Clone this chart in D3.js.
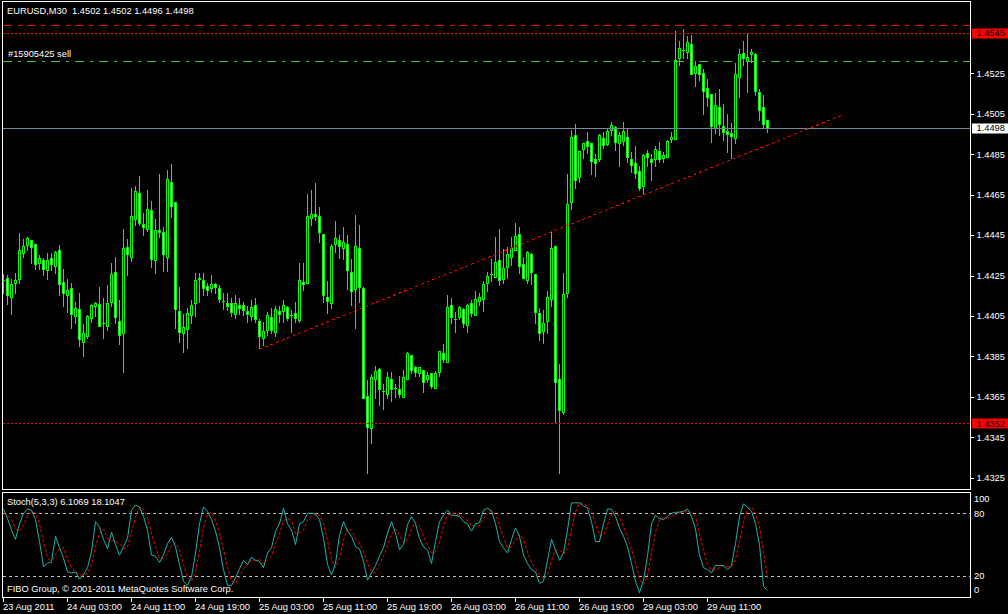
<!DOCTYPE html>
<html><head><meta charset="utf-8">
<script src="https://cdn.jsdelivr.net/npm/d3@7"></script>
<style>
html,body{margin:0;padding:0;background:#000;}
svg{display:block;}
text{font-family:'Liberation Sans',Arial,sans-serif;font-size:9.3px;fill:#fff;white-space:pre;}
</style></head><body>
<svg id="c" width="1008" height="614"></svg>
<script>
const symbolLabel = "EURUSD,M30";
const lastQuote = [1.4502, 1.4502, 1.4496, 1.4498];
const orderLabel = "#15905425 sell";
const orderPrice = 1.4531;
const stopPrice = 1.4549;
const markedLevels = [1.4545, 1.4352];
const bidPrice = 1.4498;
const trendBars = [64, 210];
const trendPrices = [1.43885, 1.45046];

const open = [
1.44227,1.44236,1.44142,1.44214,1.44234,1.44363,1.44401,1.44424,1.44404,1.44313,
1.44325,1.44275,1.44335,1.44295,1.44376,1.44216,1.44155,1.44186,1.44051,1.44082,
1.43922,1.43952,1.44041,1.44101,1.44111,1.44013,1.44002,1.44120,1.44265,1.44023,
1.43964,1.44392,1.44343,1.44531,1.44656,1.44503,1.44481,1.44572,1.44325,1.44473,
1.44463,1.44343,1.44714,1.44612,1.44072,1.43964,1.43983,1.44053,1.44112,1.44232,
1.44228,1.44198,1.44186,1.44208,1.44186,1.44124,1.44114,1.44114,1.44061,1.44104,
1.44102,1.44074,1.44051,1.44104,1.44025,1.43942,1.43982,1.44045,1.43972,1.44074,
1.44072,1.44094,1.44054,1.44063,1.44030,1.44218,1.44214,1.44533,1.44556,1.44544,
1.44455,1.44145,1.44112,1.44404,1.44424,1.44384,1.44404,1.44267,1.44185,1.44384,
1.44188,1.43654,1.43494,1.43736,1.43786,1.43677,1.43662,1.43736,1.43696,1.43687,
1.43650,1.43736,1.43855,1.43797,1.43766,1.43785,1.43736,1.43766,1.43695,1.43774,
1.43865,1.43823,1.44102,1.44033,1.44043,1.44082,1.44003,1.44112,1.44053,1.44122,
1.44132,1.44214,1.44257,1.44244,1.44325,1.44234,1.44294,1.44343,1.44374,1.44453,
1.44305,1.44226,1.44354,1.44256,1.44063,1.43974,1.44023,1.44132,1.44394,1.43736,
1.43573,1.44165,1.44612,1.44945,1.44735,1.44875,1.44915,1.44904,1.44824,1.44824,
1.44932,1.44902,1.44970,1.44984,1.44904,1.44915,1.44933,1.44824,1.44805,1.44768,
1.44694,1.44856,1.44824,1.44824,1.44866,1.44833,1.44834,1.44923,1.44923,1.45324,
1.45365,1.45354,1.45393,1.45253,1.45294,1.45253,1.45176,1.45146,1.44981,1.45082,
1.44991,1.44965,1.44953,1.44932,1.45233,1.45352,1.45311,1.45344,1.45344,1.45156,
1.45082,1.45020];
const high = [
1.44264,1.44257,1.44236,1.44265,1.44465,1.44435,1.44445,1.44429,1.44407,1.44356,
1.44343,1.44366,1.44366,1.44378,1.44406,1.44287,1.44237,1.44216,1.44124,1.44168,
1.44015,1.44058,1.44112,1.44124,1.44198,1.44142,1.44206,1.44318,1.44346,1.44134,
1.44483,1.44435,1.44688,1.44697,1.44749,1.44564,1.44678,1.44623,1.44532,1.44757,
1.44495,1.44777,1.44806,1.44612,1.44198,1.44064,1.44092,1.44134,1.44267,1.44267,
1.44267,1.44219,1.44257,1.44219,1.44208,1.44170,1.44167,1.44145,1.44158,1.44145,
1.44125,1.44104,1.44135,1.44145,1.44038,1.44026,1.44074,1.44094,1.44104,1.44104,
1.44134,1.44104,1.44084,1.44124,1.44316,1.44316,1.44658,1.44678,1.44710,1.44594,
1.44455,1.44228,1.44409,1.44524,1.44455,1.44496,1.44455,1.44336,1.44554,1.44503,
1.44198,1.43738,1.43766,1.43807,1.43799,1.43718,1.43777,1.43777,1.43716,1.43757,
1.43787,1.43878,1.43855,1.43807,1.43797,1.43785,1.43777,1.43774,1.43785,1.43875,
1.43914,1.44158,1.44142,1.44074,1.44102,1.44092,1.44112,1.44133,1.44178,1.44168,
1.44228,1.44274,1.44335,1.44445,1.44485,1.44384,1.44396,1.44445,1.44514,1.44495,
1.44346,1.44376,1.44364,1.44256,1.44096,1.44082,1.44178,1.44475,1.44394,1.43815,
1.44265,1.44757,1.44975,1.45006,1.44866,1.44912,1.44965,1.44904,1.44854,1.44953,
1.44965,1.44984,1.45014,1.44994,1.44965,1.45014,1.44984,1.44866,1.44895,1.44796,
1.44857,1.44876,1.44854,1.44895,1.44915,1.44866,1.44923,1.44965,1.45464,1.45415,
1.45472,1.45439,1.45444,1.45316,1.45294,1.45278,1.45225,1.45151,1.45156,1.45176,
1.45103,1.45054,1.45011,1.45308,1.45377,1.45415,1.45456,1.45373,1.45357,1.45176,
1.45148,1.45020];
const low = [
1.44162,1.44109,1.44059,1.44165,1.44214,1.44343,1.44376,1.44313,1.44280,1.44284,
1.44252,1.44234,1.44275,1.44264,1.44155,1.44099,1.44070,1.43992,1.44013,1.43903,
1.43853,1.43942,1.44021,1.44051,1.44002,1.43942,1.43982,1.44101,1.44013,1.43913,
1.43774,1.44252,1.44323,1.44501,1.44501,1.44452,1.44468,1.44293,1.44264,1.44442,
1.44274,1.44274,1.44541,1.43992,1.43922,1.43873,1.43893,1.44013,1.44051,1.44120,
1.44153,1.44153,1.44167,1.44165,1.44120,1.44082,1.44079,1.44051,1.44041,1.44061,
1.44054,1.44021,1.44030,1.44021,1.43890,1.43906,1.43954,1.43964,1.43952,1.44021,
1.44021,1.44030,1.43972,1.44021,1.44021,1.44178,1.44214,1.44500,1.44524,1.44417,
1.44120,1.44063,1.44091,1.44368,1.44335,1.44331,1.44183,1.44104,1.43992,1.44120,
1.43642,1.43274,1.43423,1.43642,1.43611,1.43591,1.43642,1.43630,1.43650,1.43650,
1.43650,1.43736,1.43766,1.43754,1.43754,1.43675,1.43725,1.43695,1.43695,1.43754,
1.43823,1.43823,1.44013,1.43972,1.44033,1.43993,1.43972,1.44051,1.44053,1.44104,
1.44073,1.44175,1.44222,1.44244,1.44203,1.44214,1.44236,1.44303,1.44374,1.44264,
1.44236,1.44214,1.44206,1.44013,1.43931,1.43914,1.43964,1.44099,1.43519,1.43274,
1.43563,1.44142,1.44580,1.44684,1.44714,1.44829,1.44854,1.44752,1.44744,1.44814,
1.44879,1.44895,1.44945,1.44871,1.44791,1.44895,1.44813,1.44764,1.44730,1.44673,
1.44653,1.44791,1.44722,1.44793,1.44813,1.44813,1.44834,1.44912,1.44923,1.45291,
1.45324,1.45327,1.45245,1.45187,1.45217,1.45049,1.45090,1.44912,1.44953,1.44945,
1.44920,1.44862,1.44833,1.44904,1.45134,1.45291,1.45159,1.45308,1.45143,1.45019,
1.44986,1.44960];
const close = [
1.44227,1.44153,1.44206,1.44226,1.44376,1.44394,1.44434,1.44392,1.44305,1.44335,
1.44284,1.44325,1.44305,1.44364,1.44206,1.44165,1.44176,1.44061,1.44091,1.43934,
1.43964,1.44051,1.44102,1.44112,1.44002,1.44013,1.44112,1.44256,1.44043,1.43954,
1.44384,1.44354,1.44543,1.44666,1.44511,1.44491,1.44580,1.44333,1.44473,1.44463,
1.44354,1.44725,1.44592,1.44082,1.43972,1.43993,1.44063,1.44102,1.44228,1.44239,
1.44186,1.44176,1.44208,1.44195,1.44132,1.44124,1.44101,1.44071,1.44112,1.44091,
1.44081,1.44061,1.44092,1.44033,1.43952,1.43974,1.44054,1.43982,1.44084,1.44061,
1.44102,1.44041,1.44054,1.44041,1.44228,1.44206,1.44544,1.44556,1.44544,1.44463,
1.44155,1.44122,1.44396,1.44434,1.44396,1.44414,1.44275,1.44175,1.44396,1.44195,
1.43642,1.43502,1.43749,1.43777,1.43687,1.43677,1.43746,1.43687,1.43696,1.43662,
1.43746,1.43865,1.43785,1.43772,1.43797,1.43725,1.43757,1.43703,1.43766,1.43875,
1.43835,1.44092,1.44043,1.44033,1.44092,1.44013,1.44102,1.44063,1.44133,1.44142,
1.44208,1.44247,1.44257,1.44315,1.44226,1.44285,1.44354,1.44384,1.44443,1.44295,
1.44236,1.44364,1.44265,1.44071,1.43964,1.44013,1.44142,1.44384,1.43725,1.43583,
1.44157,1.44602,1.44935,1.44722,1.44866,1.44904,1.44892,1.44814,1.44806,1.44945,
1.44894,1.44965,1.44994,1.44912,1.44945,1.44965,1.44834,1.44795,1.44755,1.44684,
1.44846,1.44834,1.44813,1.44874,1.44824,1.44846,1.44915,1.44935,1.45316,1.45373,
1.45365,1.45403,1.45245,1.45286,1.45245,1.45164,1.45135,1.44991,1.45093,1.44999,
1.44961,1.44951,1.44941,1.45245,1.45344,1.45324,1.45332,1.45354,1.45164,1.45070,
1.45001,1.44980];

const stochMain = [
84,75,64,55,70,80,84,83,74,53,
29,32,34,58,47,37,24,23,24,17,
21,28,43,72,67,55,46,62,50,40,
48,56,83,88,86,77,64,40,39,33,
40,51,57,48,31,15,11,19,42,70,
86,82,74,63,47,26,11,11,18,27,
35,31,38,35,34,28,42,47,63,70,
85,70,64,50,70,72,80,80,79,74,
56,31,21,32,59,72,63,58,48,46,
34,16,23,30,39,47,61,72,61,45,
50,69,77,70,56,48,45,32,53,72,
78,83,78,78,77,72,70,63,70,71,
83,85,82,70,53,47,42,55,66,58,
40,32,26,24,13,15,35,55,45,35,
42,64,90,90,90,87,85,72,53,53,
70,84,84,77,66,58,48,32,15,4,
16,39,70,78,75,74,77,80,81,81,
82,84,77,65,40,28,26,23,30,30,
30,26,30,51,77,89,86,82,70,50,
10,6.1069];
const stochSignal = [
80,78,74,65,63,68,78,82,80,70,
52,38,32,41,46,47,36,28,24,21,
21,22,31,48,61,65,56,54,53,51,
46,48,62,76,86,84,76,60,48,37,
37,41,49,52,45,31,19,15,24,44,
66,79,81,73,61,45,28,16,13,19,
27,31,35,35,36,32,35,39,51,60,
73,75,73,61,61,64,74,77,80,78,
70,54,36,28,37,54,65,64,56,51,
43,32,24,23,31,39,49,60,65,59,
52,55,65,72,68,58,50,42,43,52,
68,78,80,80,78,76,73,68,68,68,
75,80,83,79,68,57,47,48,54,60,
55,43,33,27,21,17,21,35,45,45,
41,47,65,81,90,89,87,81,70,59,
59,69,79,82,76,67,57,46,32,17,
12,20,42,62,74,76,75,77,79,81,
81,82,81,77,60,44,31,26,26,28,
30,29,29,36,53,72,84,86,79,67,
43,18.1047];
const stochLabel = "Stoch(5,3,3) 6.1069 18.1047";
const stochLevels = [80, 20];
const stochTicks = [100, 80, 20, 0];

const priceTicks = [1.4325,1.4345,1.4365,1.4385,1.4405,1.4425,1.4445,1.4465,1.4485,1.4505,1.4525];
const timeTickBars = [0,16,32,48,64,80,96,112,128,144,160,176];
const timeTickLabels = ["23 Aug 2011","24 Aug 03:00","24 Aug 11:00","24 Aug 19:00","25 Aug 03:00","25 Aug 11:00","25 Aug 19:00","26 Aug 03:00","26 Aug 11:00","26 Aug 19:00","29 Aug 03:00","29 Aug 11:00"];
const copyright = "FIBO Group, \u00a9 2001-2011 MetaQuotes Software Corp.";

const svg = d3.select('#c');
const W = 1008, H = 614;
const mainL = 2.5, mainR = 970.5, mainT = 1.5, mainB = 489.5;
const subT = 492.5, subB = 597.5;

const x = d3.scaleLinear().domain([0, 240]).range([3.5, 963.5]);
const y = d3.scaleLinear().domain([1.4325, 1.4525]).range([477.7, 73.3]);
const ys = d3.scaleLinear().domain([0, 100]).range([596.9, 492.4]);

svg.append('rect').attr('width', W).attr('height', H).attr('fill', '#000');

const defs = svg.append('defs');
defs.append('clipPath').attr('id', 'clipMain').append('rect')
  .attr('x', 3).attr('y', 2).attr('width', 967).attr('height', 487);
defs.append('clipPath').attr('id', 'clipSub').append('rect')
  .attr('x', 3).attr('y', 493).attr('width', 967).attr('height', 104);

// frames
svg.append('rect').attr('x', mainL).attr('y', mainT).attr('width', mainR - mainL).attr('height', mainB - mainT)
  .attr('fill', 'none').attr('stroke', '#fff').attr('shape-rendering', 'crispEdges');
svg.append('rect').attr('x', mainL).attr('y', subT).attr('width', mainR - mainL).attr('height', subB - subT)
  .attr('fill', 'none').attr('stroke', '#fff').attr('shape-rendering', 'crispEdges');

const gm = svg.append('g').attr('clip-path', 'url(#clipMain)');
const idx = d3.range(open.length);

// wicks
gm.selectAll('line.wick').data(idx).join('line').attr('class', 'wick')
  .attr('x1', i => x(i)).attr('x2', i => x(i))
  .attr('y1', i => Math.round(y(high[i])) + 0.5).attr('y2', i => Math.round(y(low[i])) + 0.5)
  .attr('stroke', '#00ff00').attr('shape-rendering', 'crispEdges');

// bodies
const bodyTop = i => Math.round(y(Math.max(open[i], close[i]))) + 0.5;
const bodyBot = i => Math.round(y(Math.min(open[i], close[i]))) + 0.5;
gm.selectAll('rect.body').data(idx.filter(i => bodyBot(i) - bodyTop(i) >= 1)).join('rect').attr('class', 'body')
  .attr('x', i => x(i) - 1).attr('width', 2)
  .attr('y', i => bodyTop(i)).attr('height', i => bodyBot(i) - bodyTop(i))
  .attr('fill', i => close[i] < open[i] ? '#ffffff' : '#000000')
  .attr('stroke', '#00ff00').attr('shape-rendering', 'crispEdges');
gm.selectAll('line.doji').data(idx.filter(i => bodyBot(i) - bodyTop(i) < 1)).join('line').attr('class', 'doji')
  .attr('x1', i => x(i) - 1.5).attr('x2', i => x(i) + 1.5)
  .attr('y1', i => bodyTop(i)).attr('y2', i => bodyTop(i))
  .attr('stroke', '#00ff00').attr('shape-rendering', 'crispEdges');

// horizontal objects drawn as pixel segments (pen patterns)
const hline = (p, color, pattern) => {
  const yy = Math.round(y(p));
  const segs = [];
  if (!pattern) segs.push([3, 967]);
  else {
    let pos = 3, k = 0;
    while (pos < 970) {
      const len = pattern[k % pattern.length];
      if (k % 2 === 0) segs.push([pos, Math.min(len, 970 - pos)]);
      pos += len; k++;
    }
  }
  gm.append('g').selectAll('rect').data(segs).join('rect')
    .attr('x', d => d[0]).attr('y', yy).attr('width', d => d[1]).attr('height', 1)
    .attr('fill', color).attr('shape-rendering', 'crispEdges');
};
hline(stopPrice, '#ff0000', [9, 6, 3, 6]);
markedLevels.forEach(p => hline(p, '#ff0000', [2, 2]));
hline(orderPrice, '#32cd32', [9, 6, 3, 6]);
hline(bidPrice, '#778899', null);

// trend line
gm.append('line')
  .attr('x1', x(trendBars[0])).attr('y1', y(trendPrices[0]))
  .attr('x2', x(trendBars[1])).attr('y2', y(trendPrices[1]))
  .attr('stroke', '#ff0000').attr('stroke-dasharray', '3,3').attr('shape-rendering', 'crispEdges');

// texts in main
svg.append('text').attr('x', 7).attr('y', 14)
  .text(symbolLabel + '  ' + lastQuote.map(v => v.toFixed(4)).join(' '));
svg.append('text').attr('x', 8).attr('y', 57.3).text(orderLabel);

// price axis
const pa = svg.append('g');
pa.selectAll('line').data(priceTicks).join('line')
  .attr('x1', 970).attr('x2', 974).attr('y1', d => Math.round(y(d)) + 0.5).attr('y2', d => Math.round(y(d)) + 0.5)
  .attr('stroke', '#fff').attr('shape-rendering', 'crispEdges');
pa.selectAll('text').data(priceTicks).join('text')
  .attr('x', 976.5).attr('y', d => y(d) + 3.4).text(d => d.toFixed(4));

const tag = (p, bg, fg) => {
  const cy = y(p);
  svg.append('rect').attr('x', 972).attr('y', Math.round(cy) - 4.5).attr('width', 36).attr('height', 10)
    .attr('fill', bg);
  svg.append('text').attr('x', 976.5).attr('y', cy + 3.4).style('fill', fg).text(p.toFixed(4));
};
tag(markedLevels[0], '#ff0000', '#000');
tag(markedLevels[1], '#ff0000', '#000');
tag(bidPrice, '#ffffff', '#000');

// stochastic
const gs = svg.append('g').attr('clip-path', 'url(#clipSub)');
gs.selectAll('line.lvl').data(stochLevels).join('line').attr('class', 'lvl')
  .attr('x1', 3).attr('x2', 970).attr('y1', d => Math.round(ys(d)) + 0.5).attr('y2', d => Math.round(ys(d)) + 0.5)
  .attr('stroke', '#c0c0c0').attr('stroke-dasharray', '3,3').attr('shape-rendering', 'crispEdges');
const lineK = d3.line().x((d, i) => x(i)).y(d => ys(d));
gs.append('path').attr('d', lineK(stochSignal)).attr('fill', 'none')
  .attr('stroke', '#ff0000').attr('stroke-dasharray', '3,2');
gs.append('path').attr('d', lineK(stochMain)).attr('fill', 'none')
  .attr('stroke', '#20b2aa');
svg.append('text').attr('x', 7).attr('y', 504.7).text(stochLabel);
svg.append('text').attr('x', 7).attr('y', 591.7).text(copyright);
svg.selectAll('text.st').data(stochTicks).join('text').attr('class', 'st')
  .attr('x', 974).attr('y', d => Math.max(498.3, Math.min(590, ys(d))) + 3.4).text(d => d);

// time axis
svg.selectAll('line.tt').data(timeTickBars).join('line').attr('class', 'tt')
  .attr('x1', d => x(d)).attr('x2', d => x(d)).attr('y1', 597).attr('y2', 601.5)
  .attr('stroke', '#fff').attr('shape-rendering', 'crispEdges');
svg.selectAll('text.tl').data(timeTickBars).join('text').attr('class', 'tl')
  .attr('x', d => x(d) - 0.5).attr('y', 610).text((d, i) => timeTickLabels[i]);
</script>
</body></html>
